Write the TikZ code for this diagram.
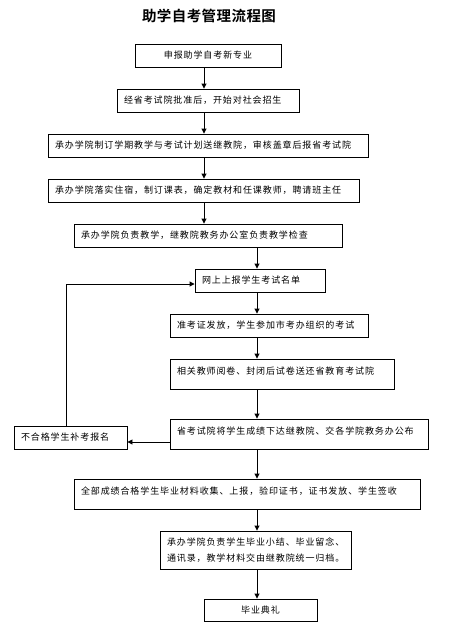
\documentclass[tikz,border=0pt]{standalone}
\usepackage{fontspec}
\newfontfamily\cjk[LetterSpace=10]{Noto Sans CJK SC}
\newfontfamily\cjkbold[LetterSpace=3]{Noto Sans CJK SC Bold}
\usetikzlibrary{arrows.meta, positioning}

\begin{document}
\begin{tikzpicture}[
  x=1pt, y=-1pt,
  font=\cjk\fontsize{9}{16}\selectfont,
  box/.style={draw, line width=0.9pt, inner xsep=7pt, inner ysep=2pt, minimum height=23pt, align=left},
  tall/.style={box, minimum height=30pt, text depth=7pt},
  arr/.style={line width=0.9pt, -{Triangle[length=5pt, width=5pt]}}
]
\useasboundingbox (0,0) rectangle (455,641);
\node[font=\cjkbold\fontsize{14.5}{16}\selectfont] (title) at (209,16) {助学自考管理流程图};

\node[box, minimum width=146pt, align=center] (apply) at (208,55.5) {申报助学自考新专业};
\node[box, text width=168pt] (enrol) at (208,100.5) {经省考试院批准后，开始对社会招生};
\node[box, text width=306pt] (plan) at (208,145.5) {承办学院制订学期教学与考试计划送继教院，审核盖章后报省考试院};
\node[box, text width=297pt] (lodge) at (203.5,190.5) {承办学院落实住宿，制订课表，确定教材和任课教师，聘请班主任};
\node[box, text width=254pt] (teach) at (208,235.5) {承办学院负责教学，继教院教务办公室负责教学检查};
\node[box, text width=116pt] (list) at (260,280.5) {网上上报学生考试名单};
\node[box, text width=184pt] (exam) at (269,325.5) {准考证发放，学生参加市考办组织的考试};
\node[tall, text width=210pt] (mark) at (282,374) {相关教师阅卷、封闭后试卷送还省教育考试院};
\node[tall, text width=244pt] (score) at (299,434) {省考试院将学生成绩下达继教院、交各学院教务办公布};
\node[box, text width=99pt] (retake) at (70.5,437.5) {不合格学生补考报名};
\node[tall, text width=332pt] (cert) at (247,494) {全部成绩合格学生毕业材料收集、上报，验印证书，证书发放、学生签收};
\node[box, text width=177pt, minimum height=38pt] (archive) at (255.5,550) {承办学院负责学生毕业小结、毕业留念、\\通讯录，教学材料交由继教院统一归档。};
\node[box, minimum width=113pt, minimum height=22pt, align=center] (grad) at (260.5,610) {毕业典礼};

\coordinate (ax) at (204,0);
\coordinate (bx) at (257,0);
\coordinate (fb) at (66,284);
\coordinate (cy) at (0,442);

\draw[arr] (apply.south -| ax) -- (enrol.north -| ax);
\draw[arr] (enrol.south -| ax) -- (plan.north -| ax);
\draw[arr] (plan.south -| ax) -- (lodge.north -| ax);
\draw[arr] (lodge.south -| ax) -- (teach.north -| ax);
\draw[arr] (teach.south -| bx) -- (list.north -| bx);
\draw[arr] (list.south -| bx) -- (exam.north -| bx);
\draw[arr] (exam.south -| bx) -- (mark.north -| bx);
\draw[arr] (mark.south -| bx) -- (score.north -| bx);
\draw[arr] (score.south -| bx) -- (cert.north -| bx);
\draw[arr] (cert.south -| bx) -- (archive.north -| bx);
\draw[arr] (archive.south -| bx) -- (grad.north -| bx);
\draw[arr] (score.west |- cy) -- (retake.east |- cy);
\draw[arr] (retake.north -| fb) |- (list.west |- fb);
\end{tikzpicture}
\end{document}
